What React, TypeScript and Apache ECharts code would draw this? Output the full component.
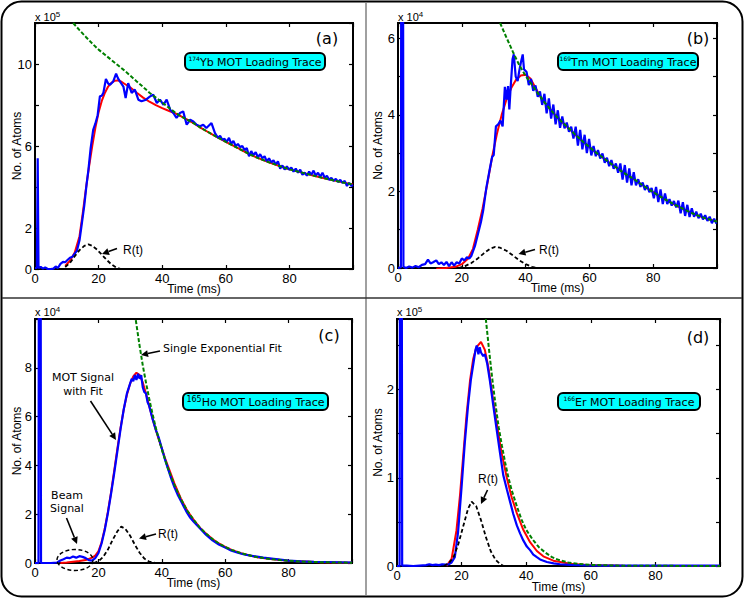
import React, { useEffect, useRef } from "react";
import * as echarts from "echarts";

// ---------------- DATA (x: ms, y: in units of the panel's multiplier) ----------------
const xTickLabels = [0, 20, 40, 60, 80];

// Panel (a) 174Yb, x 10^5
const aYTickLabels = [0, 2, 6, 10];
const aBlue = [[0,0.05],[0.6,0.05],[0.85,5.4],[1.1,0.05],[1.8,0.1],[2.5,0.02],[3.2,0.08],[4,0],[5,0],[5.8,0.02],[6.5,0.12],[7.2,0.05],[8,0.25],[8.8,0.35],[9.5,0.33],[10.3,0.45],[11,0.55],[11.8,0.6],[12.5,0.75],[13.2,0.9],[14,1.4],[14.8,2.3],[15.5,3.1],[16.2,4.1],[16.8,4.84],[17.5,5.9],[18.3,6.79],[19,7.1],[19.7,7.5],[20.4,8.42],[21,8.45],[21.5,8.59],[22.3,9.27],[23,9.05],[23.6,8.99],[24.6,9.15],[25.5,9.53],[26.1,9.3],[26.7,9.15],[27.8,8.9],[28.5,8.34],[29.3,9.07],[30.4,8.59],[31.4,8.75],[32.5,8.26],[33.5,8.18],[34.9,8.26],[36.2,8.42],[37.2,8.5],[38.3,8.1],[39.3,8.26],[40.4,8.01],[41.4,8.26],[42.5,7.77],[43.5,7.61],[44.5,7.37],[45.6,7.61],[46.6,7.69],[47.7,7.04],[48.8,7.28],[49.8,7.2],[50.8,7.04],[51.9,6.96],[52.9,7.04],[53.9,6.88],[55.5,7.12],[56.6,6.63],[57.6,6.39],[58.2,6.5],[58.9,6.3],[59.6,6.35],[60.3,6.2],[61,6.4],[61.7,6.1],[62.4,6.25],[63.1,6.0],[63.8,6.1],[64.5,5.95],[65.2,6.0],[65.9,5.8],[66.6,5.9],[67.3,5.5],[68,5.75],[68.7,5.55],[69.4,5.7],[70.1,5.45],[70.8,5.6],[71.5,5.4],[72.2,5.5],[72.9,5.25],[73.6,5.4],[74.3,5.2],[75,5.3],[75.7,5.1],[76.4,5.25],[77.1,4.9],[77.8,5.05],[78.5,4.85],[79.2,5.0],[79.9,4.85],[80.6,4.95],[81.3,4.75],[82,4.9],[82.7,4.7],[83.4,4.85],[84.1,4.6],[84.8,4.7],[85.5,4.55],[86.2,4.75],[86.9,4.6],[87.6,4.8],[88.3,4.55],[89,4.7],[89.7,4.5],[90.4,4.7],[91.1,4.45],[91.8,4.55],[92.5,4.35],[93.2,4.45],[93.9,4.3],[94.6,4.4],[95.3,4.25],[96,4.35],[96.7,4.2],[97.4,4.3],[98.1,4.05],[98.8,4.2],[99.5,4.05],[100,4.1]];
const aRed = [[9.5,0.15],[11,0.4],[12.5,0.8],[14,1.6],[15,2.7],[16,3.9],[17,5.0],[18,6.0],[19,6.9],[20,7.65],[21,8.2],[22,8.6],[23,8.9],[24,9.08],[25,9.18],[26,9.2],[27,9.15],[28,9.05],[29,8.95],[30,8.85],[32,8.6],[34,8.36],[36,8.16],[38,7.99],[40,7.85],[42,7.72],[44,7.6],[46,7.44],[48,7.27],[50,7.1],[52,6.9],[54,6.72],[56,6.54],[58,6.37],[60,6.2],[62,6.04],[64,5.88],[66,5.72],[68,5.56],[70,5.42],[72,5.3],[74,5.18],[76,5.07],[78,4.96],[80,4.86],[84,4.7],[88,4.54],[92,4.39],[96,4.25],[100,4.12]];
const aGreen = [[12,12.0],[14,11.65],[16,11.32],[18,11.0],[20,10.7],[22,10.45],[24,10.2],[26,9.95],[28,9.7],[30,9.43],[32,9.15],[34,8.88],[36,8.6],[38,8.36],[40,8.12],[42,7.88],[44,7.64],[46,7.44],[48,7.27],[50,7.1],[52,6.9],[54,6.72],[56,6.54],[58,6.37],[60,6.2],[62,6.04],[64,5.88],[66,5.72],[68,5.56],[70,5.42],[72,5.3],[74,5.18],[76,5.07],[78,4.96],[80,4.86],[82,4.78],[84,4.7],[86,4.62],[88,4.54],[90,4.46],[92,4.39],[94,4.32],[96,4.25],[98,4.18],[100,4.12]];
const aR = [[9.5,0.1],[11,0.3],[12.5,0.62],[14,0.92],[15.5,1.13],[16.8,1.2],[18,1.13],[19.5,0.95],[21,0.7],[22.5,0.45],[24,0.23],[25.5,0.08],[27,0]];

// Panel (b) 169Tm, x 10^4
const bYTickLabels = [0, 2, 4, 6];
const bBlue = [[0,0],[0.9,0.02],[1.0,7],[1.6,7],[1.7,0.03],[2.5,0],[3.5,0.04],[4.5,0.01],[5.5,0.05],[6.5,0.02],[7.5,0.08],[8.5,0.1],[9.4,0.22],[10.2,0.12],[11,0.15],[12,0.2],[12.8,0.1],[13.6,0.15],[14.4,0.08],[15.2,0.16],[16,0.05],[16.8,0.15],[17.6,0.06],[18.4,0.15],[19.2,0.12],[20,0.25],[20.8,0.2],[21.6,0.28],[22.4,0.25],[23,0.32],[24.1,0.57],[25.1,0.9],[26,1.2],[26.7,1.5],[27.7,2.1],[28.8,2.6],[29.5,2.9],[30,2.95],[30.7,3.7],[31.4,3.75],[32.1,3.85],[32.8,3.7],[33.5,4.73],[34,4.4],[34.5,4.75],[34.9,4.14],[35.3,4.7],[35.9,5.45],[36.3,5.58],[36.9,5.0],[37.5,4.88],[38,5.14],[38.5,5.36],[39.1,5.58],[39.5,5.19],[40.3,5.12],[41,4.78],[41.7,4.94],[42.4,4.63],[43.1,4.77],[43.8,4.47],[44.5,4.61],[45.2,4.26],[45.9,4.55],[46.6,4.04],[47.3,4.43],[48,3.9],[48.7,4.27],[49.4,3.75],[50.1,4.12],[50.8,3.66],[51.5,3.96],[52.2,3.65],[52.9,3.8],[53.6,3.56],[54.3,3.69],[55,3.38],[55.7,3.69],[56.4,3.2],[57.1,3.61],[57.8,3.1],[58.5,3.48],[59.2,3.0],[59.9,3.37],[60.6,2.94],[61.3,3.19],[62,2.92],[62.7,3.08],[63.4,2.86],[64.1,2.99],[64.8,2.75],[65.5,2.88],[66.2,2.66],[66.9,2.82],[67.6,2.59],[68.3,2.73],[69,2.49],[69.7,2.73],[70.4,2.31],[71.1,2.69],[71.8,2.23],[72.5,2.6],[73.2,2.16],[73.9,2.5],[74.6,2.16],[75.3,2.32],[76,2.12],[76.7,2.23],[77.4,2.04],[78.1,2.16],[78.8,1.98],[79.5,2.09],[80.2,1.82],[80.9,2.12],[81.6,1.72],[82.3,2.05],[83,1.67],[83.7,1.95],[84.4,1.67],[85.1,1.8],[85.8,1.63],[86.5,1.75],[87.2,1.58],[87.9,1.76],[88.6,1.43],[89.3,1.72],[90,1.36],[90.7,1.65],[91.4,1.33],[92.1,1.56],[92.8,1.34],[93.5,1.47],[94.2,1.3],[94.9,1.42],[95.6,1.27],[96.3,1.38],[97,1.23],[97.7,1.34],[98.4,1.17],[99.1,1.29],[99.8,1.16]];
const bRed = [[12,-0.02],[15,0],[18,0.03],[20,0.1],[22,0.25],[23.5,0.5],[25,1.0],[26.5,1.55],[28,2.2],[29.5,2.9],[31,3.5],[32.5,4.0],[34,4.4],[35.5,4.7],[37,4.92],[38.5,5.03],[40,5.05],[41.5,4.95],[43,4.72],[44.5,4.5],[46,4.32],[48,4.12],[50,3.93],[52,3.77],[54,3.61],[56,3.45],[58,3.3],[60,3.16],[62,3.02],[64,2.9],[66,2.77],[68,2.65],[70,2.53],[72,2.42],[74,2.32],[76,2.2],[78,2.09],[80,1.98],[82,1.88],[84,1.78],[86,1.69],[88,1.6],[90,1.52],[92,1.44],[94,1.37],[96,1.31],[98,1.26],[100,1.21]];
const bGreen = [[32,6.4],[34,6.02],[36,5.65],[38,5.3],[40,5.02],[42,4.78],[44,4.55],[46,4.32],[48,4.12],[50,3.93],[52,3.77],[54,3.61],[56,3.45],[58,3.3],[60,3.16],[62,3.02],[64,2.9],[66,2.77],[68,2.65],[70,2.53],[72,2.42],[74,2.32],[76,2.2],[78,2.09],[80,1.98],[82,1.88],[84,1.78],[86,1.69],[88,1.6],[90,1.52],[92,1.44],[94,1.37],[96,1.31],[98,1.26],[100,1.21]];
const bR = [[19,0],[21,0.05],[23,0.13],[25,0.25],[27,0.39],[29,0.51],[30.5,0.55],[32,0.53],[34,0.45],[36,0.33],[38,0.2],[40,0.1],[42,0.03],[43.5,0]];

// Panel (c) 165Ho, x 10^4
const cYTickLabels = [0, 2, 4, 6, 8];
const cBlue = [[0,0],[1.1,0],[1.2,11],[1.8,11],[1.9,0],[3,0],[5,0],[7,0.02],[8,0.1],[9,0.15],[10,0.22],[11,0.2],[12,0.27],[13,0.22],[14,0.28],[15,0.25],[16,0.2],[17,0.12],[18,0.1],[19,0.2],[20,0.4],[21,0.8],[22,1.35],[23,2.05],[24,2.85],[25,3.7],[26,4.6],[27,5.5],[28,6.3],[29,6.95],[30,7.35],[30.5,7.55],[31,7.45],[31.5,7.7],[32,7.5],[32.5,7.75],[33,7.55],[33.5,7.7],[34,7.2],[34.5,7.0],[35,6.95],[35.5,6.6],[36,6.45],[37,5.95],[38,5.5],[39,5.15],[40,4.7],[41,4.25],[42,3.85],[43,3.45],[44,3.1],[45,2.8],[46,2.55],[47,2.3],[48,2.05],[49,1.85],[50,1.7],[52,1.42],[54,1.15],[56,0.93],[58,0.76],[60,0.63],[62,0.5],[64,0.42],[66,0.35],[68,0.3],[70,0.26],[72,0.22],[74,0.19],[76,0.16],[78,0.13],[80,0.1],[84,0.07],[88,0.05],[92,0.04],[96,0.03],[100,0.02]];
const cRed = [[8,0],[10,0.02],[12,0.05],[14,0.08],[16,0.12],[18,0.22],[19,0.3],[20,0.48],[21,0.85],[22,1.4],[23,2.1],[24,2.9],[25,3.8],[26,4.7],[27,5.55],[28,6.3],[29,6.9],[30,7.35],[31,7.65],[32,7.8],[33,7.7],[34,7.4],[35,6.95],[36,6.45],[37,5.95],[38,5.5],[39,5.08],[40,4.7],[41,4.3],[42,3.95],[43,3.6],[44,3.25],[46,2.65],[48,2.15],[50,1.78],[52,1.45],[54,1.2],[56,0.98],[58,0.8],[60,0.66],[62,0.54],[65,0.4],[70,0.24],[75,0.15],[80,0.09],[90,0.035],[100,0.012]];
const cGreen = [[31.8,9.95],[33,8.9],[34,8.1],[35,7.4],[36,6.75],[37,6.15],[38,5.6],[39,5.1],[40,4.65],[42,3.85],[44,3.2],[46,2.62],[48,2.15],[50,1.78],[52,1.45],[54,1.2],[56,0.98],[58,0.8],[60,0.66],[62,0.54],[65,0.4],[70,0.24],[75,0.15],[80,0.09],[85,0.055],[90,0.035],[95,0.02],[100,0.012]];
const cR = [[18.5,0],[20,0.07],[21.5,0.25],[23,0.55],[24.5,0.95],[26,1.3],[27.2,1.49],[28.5,1.4],[30,1.12],[31.5,0.75],[33,0.42],[34.5,0.18],[36,0.06],[38,0]];

// Panel (d) 166Er, x 10^5
const dYTickLabels = [0, 1, 2];
const dBlue = [[0,0],[0.8,0],[0.9,3],[1.5,3],[1.6,0.005],[3,0.005],[5,0],[7,0.005],[9,0.01],[10,0.02],[11,0.01],[12,0.015],[13,0.01],[14,0.02],[15,0.015],[16,0.02],[16.9,0.04],[17.9,0.1],[18.9,0.38],[20,0.9],[21,1.4],[22,1.82],[22.9,2.12],[23.8,2.33],[24.3,2.45],[24.7,2.5],[25.2,2.4],[25.6,2.48],[26,2.42],[26.7,2.38],[27.2,2.4],[27.9,2.3],[28.8,2.09],[29.8,1.82],[30.8,1.56],[31.9,1.28],[32.9,1.03],[34,0.87],[35,0.73],[36,0.59],[37.1,0.46],[38.1,0.37],[39.1,0.29],[40.2,0.22],[41.2,0.18],[42.2,0.13],[43.3,0.1],[44.5,0.07],[46.4,0.045],[48.5,0.03],[50.5,0.02],[53.6,0.012],[58.8,0.007],[64,0.005],[70,0.005],[80,0.004],[90,0.004],[100,0.004]];
const dRed = [[15.3,0],[16.9,0.08],[18.4,0.4],[19.5,0.8],[20.5,1.25],[21.5,1.7],[22.6,2.1],[23.6,2.35],[24.6,2.48],[26,2.54],[27.2,2.45],[28.3,2.25],[29.3,2.0],[30.3,1.75],[31.4,1.5],[32.4,1.28],[34,1.0],[35.5,0.78],[37.1,0.6],[39.1,0.41],[41.2,0.27],[43.3,0.17],[45.3,0.11],[48.4,0.06],[53.6,0.025],[58.8,0.01],[70,0.003],[100,0]];
const dGreen = [[27.5,2.8],[28.5,2.45],[29.5,2.12],[30.5,1.83],[31.5,1.57],[32.5,1.36],[33.5,1.17],[34.5,1.0],[35.5,0.86],[37,0.69],[38.5,0.53],[40,0.41],[42,0.3],[44,0.21],[46,0.15],[48,0.1],[50,0.07],[53,0.04],[56,0.025],[60,0.012],[70,0.003],[100,0]];
const dR = [[14.5,0],[16,0.03],[17.5,0.1],[19,0.25],[20.5,0.45],[22,0.65],[23.1,0.73],[24.5,0.68],[26,0.52],[27.5,0.33],[29,0.17],[30.5,0.07],[32,0.02],[33,0]];

const isotopes = ["174", "169", "165", "166"];
const elements = ["Yb", "Tm", "Ho", "Er"];
const exponents = ["5", "4", "4", "5"];
const panelLetters = ["(a)", "(b)", "(c)", "(d)"];
const yMax = [12, 6.4, 10, 2.8];
const yInterval = [2, 1, 2, 0.5];
const yLabelLists = [aYTickLabels, bYTickLabels, cYTickLabels, dYTickLabels];
const blueSets = [aBlue, bBlue, cBlue, dBlue];
const redSets = [aRed, bRed, cRed, dRed];
const greenSets = [aGreen, bGreen, cGreen, dGreen];
const rSets = [aR, bR, cR, dR];

// ---------------- LAYOUT ----------------
const grids = [
  { left: 35, top: 23, width: 318, height: 246 },
  { left: 398, top: 23, width: 319, height: 245 },
  { left: 35, top: 319, width: 317, height: 244 },
  { left: 397, top: 319, width: 323, height: 247 },
];
const yNameGap = [12, 14, 12, 13];
const boxes = [
  { x: 185, y: 53, w: 140, h: 17, sup: 6 },
  { x: 558, y: 53, w: 140, h: 17, sup: 6 },
  { x: 183, y: 393, w: 145, h: 17, sup: 8 },
  { x: 558, y: 393, w: 142, h: 17, sup: 6 },
];
const letterPos = [[327, 38], [698, 38], [329, 335], [698, 337]];
const multPos = [[35, 17], [398, 17], [35, 312], [397, 312]];

const SANS = "Liberation Sans";
const DEJAVU = "DejaVu Sans";

function arrow(x1: number, y1: number, x2: number, y2: number) {
  const dx = x2 - x1, dy = y2 - y1;
  const L = Math.hypot(dx, dy);
  const ux = dx / L, uy = dy / L;
  const hl = 7, hw = 3.5;
  const bx = x2 - ux * hl, by = y2 - uy * hl;
  return [
    { type: "line", z: 100, shape: { x1, y1, x2: bx, y2: by }, style: { stroke: "#000", lineWidth: 1.6 } },
    { type: "polygon", z: 100, shape: { points: [[x2, y2], [bx - uy * hw, by + ux * hw], [bx + uy * hw, by - ux * hw]] }, style: { fill: "#000" } },
  ];
}

function txt(text: string, x: number, y: number, size: number, family: string, align = "center") {
  return { type: "text", z: 100, x, y, style: { text, fill: "#000", font: `${size}px "${family}"`, align, verticalAlign: "middle" } };
}

function buildOption() {
  const xAxis: any[] = [];
  const yAxis: any[] = [];
  const tickStyle = { show: true, inside: true, length: 4, lineStyle: { color: "#000", width: 1.2 } };
  for (let i = 0; i < 4; i++) {
    xAxis.push({
      type: "value", gridIndex: i, min: 0, max: 100, interval: 20,
      axisLine: { show: false, onZero: false }, axisTick: tickStyle, splitLine: { show: false },
      axisLabel: {
        margin: 3, fontSize: 13, fontFamily: SANS, color: "#000",
        formatter: (v: number) => (xTickLabels.includes(v) ? String(v) : ""),
      },
      name: "Time (ms)", nameLocation: "middle", nameGap: i === 3 ? 15 : 14, nameMoveOverlap: false,
      nameTextStyle: { fontSize: 12, fontFamily: SANS, color: "#000" },
    });
    const labels = yLabelLists[i];
    yAxis.push({
      type: "value", gridIndex: i, min: 0, max: yMax[i], interval: yInterval[i],
      axisLine: { show: false, onZero: false }, axisTick: tickStyle, splitLine: { show: false },
      axisLabel: {
        margin: 3, fontSize: 13, fontFamily: SANS, color: "#000", showMaxLabel: true,
        formatter: (v: number) => (labels.includes(v) ? String(v) : ""),
      },
      name: "No. of Atoms", nameLocation: "middle", nameGap: yNameGap[i], nameMoveOverlap: false,
      nameTextStyle: { fontSize: 12, fontFamily: SANS, color: "#000" },
    });
  }
  for (let i = 0; i < 4; i++) {
    xAxis.push({
      type: "value", gridIndex: i, position: "top", min: 0, max: 100, interval: 20,
      axisLine: { show: false, onZero: false }, axisTick: tickStyle, splitLine: { show: false }, axisLabel: { show: false },
    });
    yAxis.push({
      type: "value", gridIndex: i, position: "right", min: 0, max: yMax[i], interval: yInterval[i],
      axisLine: { show: false, onZero: false }, axisTick: tickStyle, splitLine: { show: false }, axisLabel: { show: false },
    });
  }

  const series: any[] = [];
  for (let i = 0; i < 4; i++) {
    const base = { type: "line", xAxisIndex: i, yAxisIndex: i, showSymbol: false, symbol: "none", clip: true, silent: true };
    series.push({ ...base, name: "fit", data: redSets[i], lineStyle: { color: "#FF0000", width: 2 }, z: 2 });
    series.push({ ...base, name: "signal", data: blueSets[i], lineStyle: { color: "#0000FF", width: 2.2 }, z: 3 });
    series.push({ ...base, name: "exp", data: greenSets[i], lineStyle: { color: "#008000", width: 2, type: [4, 2] }, z: 4 });
    series.push({ ...base, name: "R(t)", data: rSets[i], lineStyle: { color: "#000", width: 1.8, type: [4, 2.5] }, z: 5 });
  }

  const graphic: any[] = [
    { type: "rect", z: 100, shape: { x: 1.5, y: 1.5, width: 741, height: 595, r: 20 }, style: { fill: "none", stroke: "#000", lineWidth: 2 } },
    { type: "line", z: 100, shape: { x1: 366, y1: 2, x2: 366, y2: 596 }, style: { stroke: "#808080", lineWidth: 1.5 } },
    { type: "line", z: 100, shape: { x1: 2, y1: 298, x2: 742, y2: 298 }, style: { stroke: "#333", lineWidth: 1.5 } },
  ];
  for (let i = 0; i < 4; i++) {
    const b = boxes[i];
    graphic.push({ type: "rect", z: 100, shape: { x: b.x, y: b.y, width: b.w, height: b.h, r: 5 }, style: { fill: "#00FFFF", stroke: "#000", lineWidth: 2 } });
    graphic.push({
      type: "text", z: 101, x: b.x + b.w / 2, y: b.y + b.h / 2 + 0.5,
      style: {
        text: `{s|${isotopes[i]}}{n|${elements[i]} MOT Loading Trace}`,
        align: "center", verticalAlign: "middle",
        rich: {
          s: { fontSize: b.sup, fontFamily: DEJAVU, fill: "#000", verticalAlign: "top", lineHeight: 13 },
          n: { fontSize: 11, fontFamily: DEJAVU, fill: "#000", lineHeight: 13 },
        },
      },
    });
    graphic.push(txt(panelLetters[i], letterPos[i][0], letterPos[i][1], 16, DEJAVU));
    graphic.push({
      type: "text", z: 100, x: multPos[i][0], y: multPos[i][1],
      style: {
        text: `{m|x 10}{e|${exponents[i]}}`, align: "left", verticalAlign: "middle",
        rich: {
          m: { fontSize: 11, fontFamily: SANS, fill: "#000", lineHeight: 14 },
          e: { fontSize: 8, fontFamily: SANS, fill: "#000", verticalAlign: "top", lineHeight: 14 },
        },
      },
    });
  }
  // annotations
  graphic.push(txt("R(t)", 133, 250, 12, SANS));
  graphic.push(...arrow(117, 248.5, 102, 254));
  graphic.push(txt("R(t)", 549, 250, 12, SANS));
  graphic.push(...arrow(535, 249.5, 518.5, 254));
  graphic.push(txt("Single Exponential Fit", 163, 348, 11, DEJAVU, "left"));
  graphic.push(...arrow(160, 351, 141, 355));
  graphic.push(txt("MOT Signal", 83, 377, 11, DEJAVU));
  graphic.push(txt("with Fit", 83, 391, 11, DEJAVU));
  graphic.push(...arrow(90.5, 401, 116, 440));
  graphic.push(txt("Beam", 67, 495, 11, DEJAVU));
  graphic.push(txt("Signal", 67, 508, 11, DEJAVU));
  graphic.push(...arrow(66.5, 518, 77, 544));
  graphic.push({ type: "ellipse", z: 100, shape: { cx: 75, cy: 560, rx: 18, ry: 10.5 }, style: { fill: "none", stroke: "#000", lineWidth: 1.4, lineDash: [4, 2.5] } });
  graphic.push(txt("R(t)", 168, 534, 12, SANS));
  graphic.push(...arrow(156, 534, 139, 538.5));
  graphic.push(txt("R(t)", 488, 479, 12, SANS));
  graphic.push(...arrow(487.5, 490, 481, 504));

  return {
    animation: false,
    backgroundColor: "#fff",
    textStyle: { fontFamily: SANS },
    grid: grids.map((g) => ({ ...g, show: true, borderColor: "#000", borderWidth: 2, backgroundColor: "transparent", containLabel: false })),
    xAxis, yAxis, series, graphic,
  };
}

export default function App() {
  const ref = useRef<HTMLDivElement>(null);
  useEffect(() => {
    if (!ref.current) return;
    const chart = echarts.init(ref.current, null, { renderer: "svg" });
    chart.setOption(buildOption() as any);
    return () => chart.dispose();
  }, []);
  return <div ref={ref} style={{ position: "absolute", left: 0, top: 0, width: 747, height: 600 }} />;
}
